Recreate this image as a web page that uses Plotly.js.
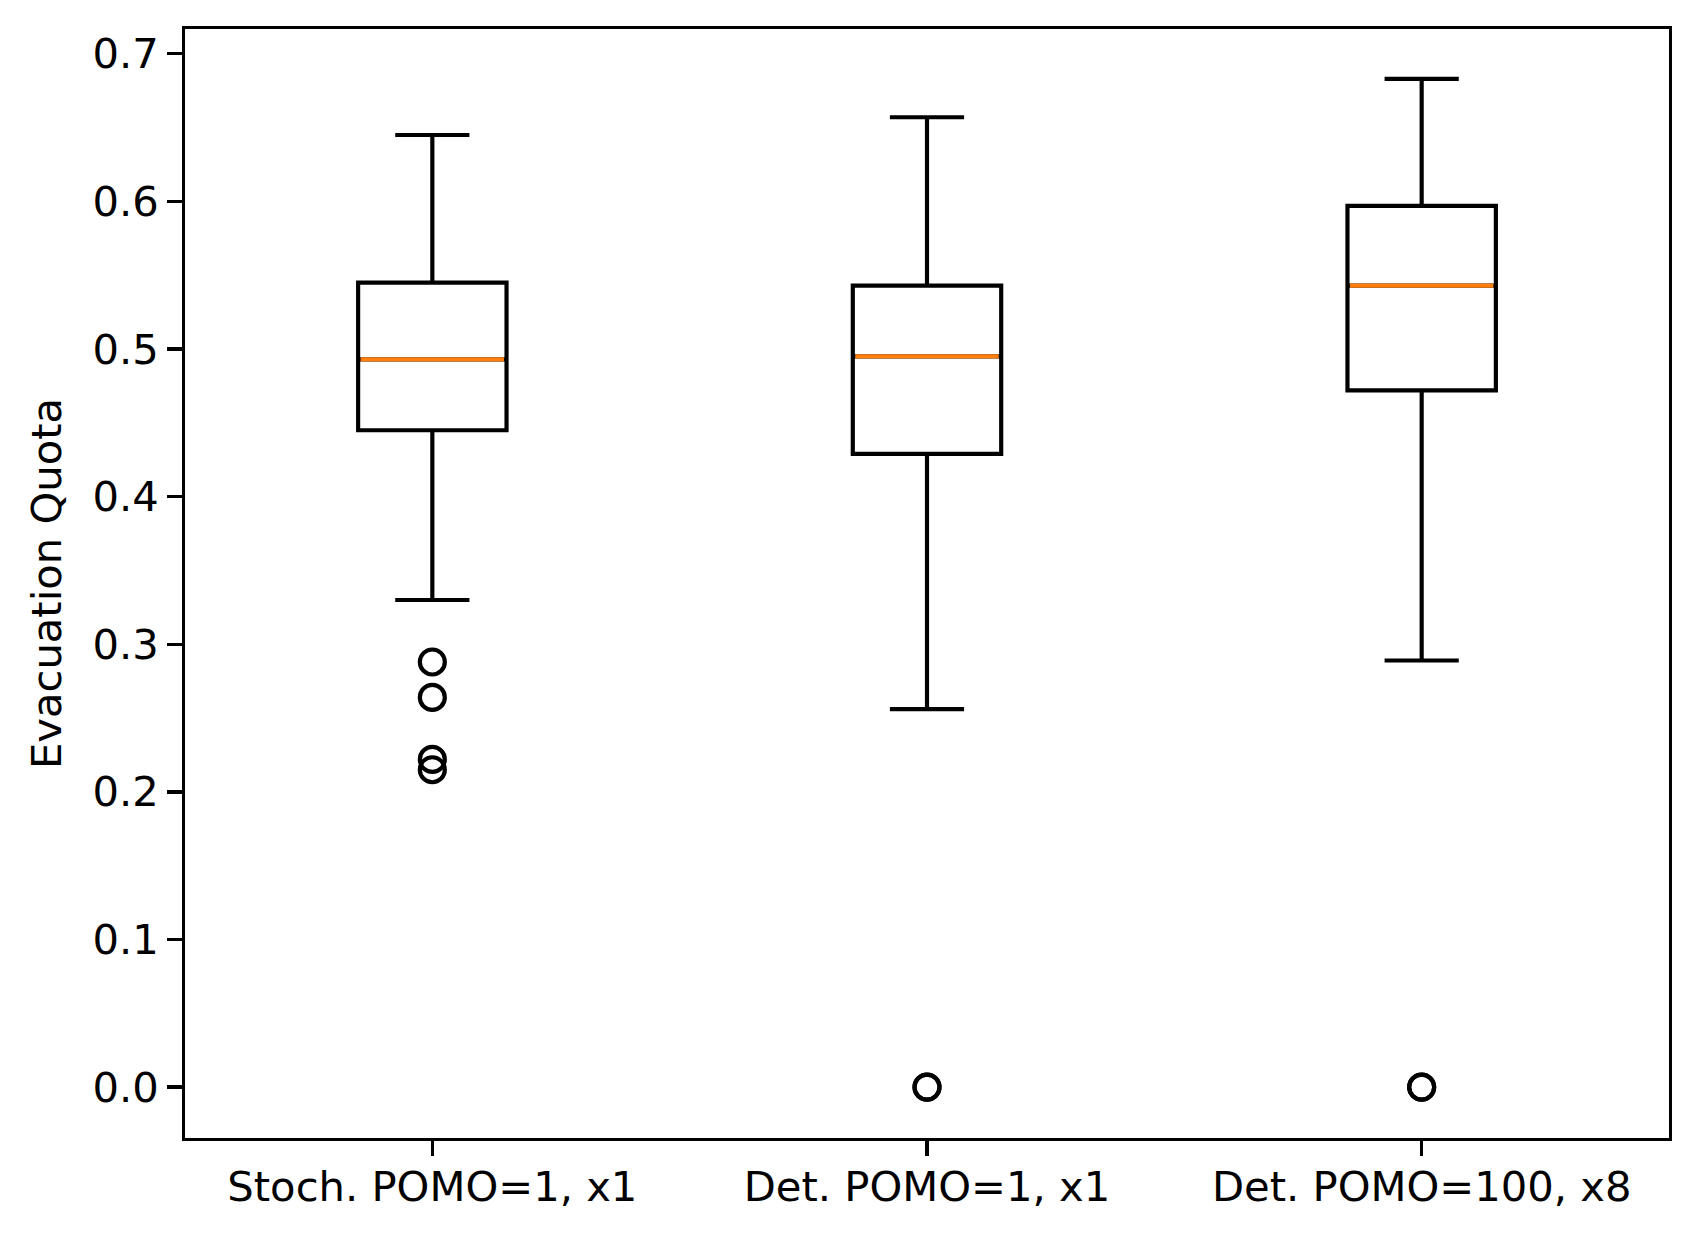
<!DOCTYPE html>
<html>
<head>
<meta charset="utf-8">
<script src="https://cdn.plot.ly/plotly-3.0.1.min.js"></script>
<style>html,body{margin:0;padding:0;background:#fff;}#chart{width:1700px;height:1237px;}</style>
</head>
<body>
<div id="chart"></div>
<script>
const categories = ["Stoch. POMO=1, x1", "Det. POMO=1, x1", "Det. POMO=100, x8"];
const lowerWhisker = [0.330, 0.256, 0.289];
const q1Values = [0.445, 0.429, 0.472];
const medianValues = [0.493, 0.495, 0.543];
const q3Values = [0.545, 0.543, 0.597];
const upperWhisker = [0.645, 0.657, 0.683];
const outlierCats = ["Stoch. POMO=1, x1", "Stoch. POMO=1, x1", "Stoch. POMO=1, x1", "Stoch. POMO=1, x1",
                     "Det. POMO=1, x1", "Det. POMO=1, x1", "Det. POMO=100, x8", "Det. POMO=100, x8"];
const outlierValues = [0.288, 0.264, 0.222, 0.215, 0.0, 0.0, 0.0, 0.0];
const yTicks = [0.0, 0.1, 0.2, 0.3, 0.4, 0.5, 0.6, 0.7];

const FONT = "DejaVu Sans, Liberation Sans, sans-serif";
const FS = 41.7;

const boxTrace = {
  type: "box",
  x: categories,
  q1: q1Values,
  median: medianValues,
  q3: q3Values,
  lowerfence: lowerWhisker,
  upperfence: upperWhisker,
  width: 0.3,
  whiskerwidth: 0.5,
  boxpoints: false,
  line: {color: "black", width: 4.17},
  fillcolor: "rgba(255,255,255,0)",
  showlegend: false,
  hoverinfo: "skip"
};

const medianTrace = {
  type: "box",
  x: categories,
  q1: medianValues,
  median: medianValues,
  q3: medianValues,
  lowerfence: medianValues,
  upperfence: medianValues,
  width: 0.29,
  whiskerwidth: 0,
  boxpoints: false,
  line: {color: "#ff7f0e", width: 4.17},
  fillcolor: "rgba(255,255,255,0)",
  showlegend: false,
  hoverinfo: "skip"
};

const outlierTrace = {
  type: "scatter",
  mode: "markers",
  x: outlierCats,
  y: outlierValues,
  marker: {symbol: "circle-open", size: 25, color: "black", line: {width: 4.17, color: "black"}},
  showlegend: false,
  hoverinfo: "skip",
  cliponaxis: false
};

const layout = {
  width: 1700,
  height: 1237,
  paper_bgcolor: "white",
  plot_bgcolor: "white",
  margin: {l: 185, r: 31, t: 29, b: 99, pad: 0},
  boxmode: "overlay",
  showlegend: false,
  font: {family: FONT, size: FS, color: "black"},
  xaxis: {
    type: "category",
    categoryorder: "array",
    categoryarray: categories,
    range: [-0.5, 2.5],
    showline: true,
    linecolor: "black",
    linewidth: 3.33,
    mirror: true,
    ticks: "outside",
    ticklen: 14.6,
    tickwidth: 3.33,
    tickcolor: "black",
    ticklabelstandoff: -5,
    showgrid: false,
    zeroline: false,
    tickfont: {family: FONT, size: FS, color: "black"}
  },
  yaxis: {
    range: [-0.0345, 0.7168],
    tickvals: yTicks,
    tickformat: ".1f",
    showline: true,
    linecolor: "black",
    linewidth: 3.33,
    mirror: true,
    ticks: "outside",
    ticklen: 14.6,
    tickwidth: 3.33,
    tickcolor: "black",
    showgrid: false,
    zeroline: false,
    tickfont: {family: FONT, size: FS, color: "black"},
    title: {text: "Evacuation Quota", font: {family: FONT, size: FS, color: "black"}, standoff: 18}
  }
};

Plotly.newPlot("chart", [boxTrace, medianTrace, outlierTrace], layout, {displayModeBar: false, staticPlot: true});
</script>
</body>
</html>
